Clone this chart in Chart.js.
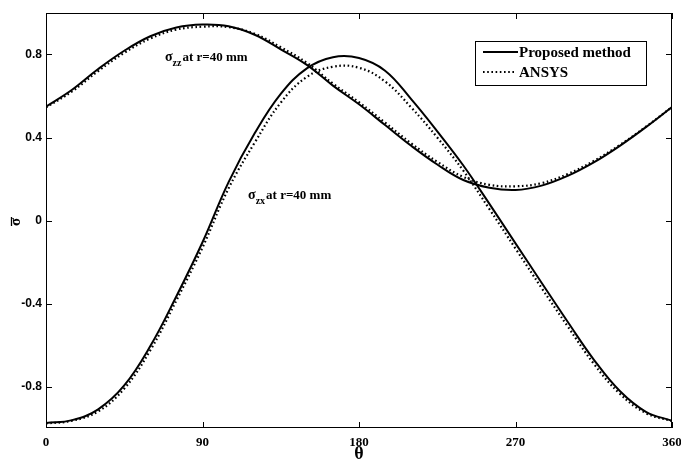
<!DOCTYPE html>
<html>
<head>
<meta charset="utf-8">
<script src="https://cdn.jsdelivr.net/npm/chart.js@4/dist/chart.umd.min.js"></script>
<style>
  body { margin: 0; background: #fff; }
  #wrap { width: 681px; height: 461px; }
</style>
</head>
<body>
<div id="wrap"><canvas id="stressChart"></canvas></div>
<script>
// angle theta (deg)
const theta = [0, 15, 30, 45, 60, 75, 90, 105, 120, 135, 150, 165, 180,
               195, 210, 225, 240, 255, 270, 285, 300, 315, 330, 345, 360];

// sigma_zz at r=40 mm
const szzProposed = [0.549, 0.63, 0.73, 0.818, 0.888, 0.93, 0.944, 0.936, 0.895, 0.825, 0.75, 0.65, 0.56,
                     0.46, 0.36, 0.27, 0.195, 0.158, 0.147, 0.168, 0.215, 0.28, 0.36, 0.45, 0.547];
const szzAnsys = [0.545, 0.622, 0.72, 0.808, 0.877, 0.92, 0.934, 0.932, 0.9, 0.835, 0.76, 0.66, 0.57,
                  0.472, 0.372, 0.283, 0.21, 0.172, 0.165, 0.18, 0.224, 0.287, 0.364, 0.452, 0.547];

// sigma_zx at r=40 mm
const szxProposed = [-0.976, -0.962, -0.91, -0.795, -0.605, -0.365, -0.105, 0.185, 0.42, 0.61, 0.733, 0.787, 0.783,
                     0.722, 0.585, 0.43, 0.265, 0.08, -0.11, -0.3, -0.488, -0.67, -0.822, -0.922, -0.965];
const szxAnsys = [-0.978, -0.965, -0.92, -0.81, -0.625, -0.385, -0.13, 0.155, 0.375, 0.568, 0.692, 0.741, 0.736,
                  0.67, 0.545, 0.4, 0.24, 0.055, -0.135, -0.325, -0.51, -0.69, -0.835, -0.928, -0.967];

const xTicks = [0, 90, 180, 270, 360];
const yTicks = [-0.8, -0.4, 0, 0.4, 0.8];
const legendNames = ["Proposed method", "ANSYS"];

const serif = '"Liberation Serif", "Times New Roman", serif';
const sans = '"Liberation Sans", Arial, sans-serif';

function pts(ys) {
    return theta.map((t, i) => ({ x: t, y: ys[i] }));
}

const solid = { borderColor: "#000", borderWidth: 2, pointRadius: 0, tension: 0.4, fill: false };
const dotted = { borderColor: "#000", borderWidth: 2.2, borderDash: [1.6, 2.6], pointRadius: 0, tension: 0.4, fill: false };

// frame, inward ticks, legend and labels drawn over the plot
const decorations = {
    id: "decorations",
    afterDraw(chart) {
        const ctx = chart.ctx;
        const a = chart.chartArea;
        const xs = chart.scales.x, ys = chart.scales.y;
        ctx.save();
        ctx.strokeStyle = "#000";
        ctx.fillStyle = "#000";
        ctx.lineWidth = 1;
        ctx.strokeRect(a.left + 0.5, a.top + 0.5, a.right - a.left - 1, a.bottom - a.top - 1);
        ctx.beginPath();
        xTicks.forEach(v => {
            const px = Math.round(xs.getPixelForValue(v)) + 0.5;
            ctx.moveTo(px, a.bottom); ctx.lineTo(px, a.bottom - 6);
            ctx.moveTo(px, a.top); ctx.lineTo(px, a.top + 6);
        });
        yTicks.forEach(v => {
            const py = Math.round(ys.getPixelForValue(v)) + 0.5;
            ctx.moveTo(a.left, py); ctx.lineTo(a.left + 6, py);
            ctx.moveTo(a.right, py); ctx.lineTo(a.right - 6, py);
        });
        ctx.stroke();

        // axis titles
        ctx.textAlign = "center";
        ctx.textBaseline = "alphabetic";
        ctx.font = "bold 18px " + serif;
        ctx.fillText("θ", (a.left + a.right) / 2, 459);
        ctx.save();
        ctx.translate(20, 222);
        ctx.rotate(-Math.PI / 2);
        ctx.font = "bold 15px " + serif;
        ctx.fillText("σ", 0, 0);
        ctx.beginPath();
        ctx.lineWidth = 1.3;
        ctx.moveTo(-4, -8.5); ctx.lineTo(5, -8.5);
        ctx.stroke();
        ctx.restore();

        // curve labels
        ctx.textAlign = "left";
        function label(t, v, sub) {
            let x = xs.getPixelForValue(t), y = ys.getPixelForValue(v);
            ctx.font = "bold 14px " + serif;
            ctx.fillText("σ", x, y);
            x += ctx.measureText("σ").width;
            ctx.font = "bold 10px " + serif;
            ctx.fillText(sub, x, y + 5);
            x += ctx.measureText(sub).width + 1;
            ctx.font = "bold 13px " + serif;
            ctx.fillText("at r=40 mm", x, y);
        }
        label(68.4, 0.768, "zz");
        label(116.2, 0.103, "zx");

        // legend
        ctx.lineWidth = 1;
        ctx.strokeRect(475.5, 41.5, 171, 44);
        ctx.font = "bold 15px " + serif;
        ctx.beginPath();
        ctx.lineWidth = 2;
        ctx.moveTo(483, 52); ctx.lineTo(518, 52);
        ctx.stroke();
        ctx.beginPath();
        ctx.setLineDash([1.6, 2.6]);
        ctx.lineWidth = 2.2;
        ctx.moveTo(483, 72); ctx.lineTo(515, 72);
        ctx.stroke();
        ctx.setLineDash([]);
        ctx.fillText(legendNames[0], 519, 57);
        ctx.fillText(legendNames[1], 519, 77);
        ctx.restore();
    }
};

new Chart(document.getElementById("stressChart"), {
    type: "line",
    data: {
        datasets: [
            Object.assign({ label: "Proposed σzz", data: pts(szzProposed) }, solid),
            Object.assign({ label: "ANSYS σzz", data: pts(szzAnsys) }, dotted),
            Object.assign({ label: "Proposed σzx", data: pts(szxProposed) }, solid),
            Object.assign({ label: "ANSYS σzx", data: pts(szxAnsys) }, dotted)
        ]
    },
    options: {
        responsive: true,
        maintainAspectRatio: false,
        animation: false,
        layout: { padding: { top: 13, right: 9, left: 0, bottom: 0 } },
        plugins: { legend: { display: false }, tooltip: { enabled: false } },
        scales: {
            x: {
                type: "linear",
                min: 0,
                max: 360,
                afterBuildTicks: s => { s.ticks = xTicks.map(v => ({ value: v })); },
                afterFit: s => { s.height = 33; s.paddingLeft = 0; s.paddingRight = 0; },
                grid: { display: false, drawTicks: false },
                border: { display: false },
                ticks: { color: "#000", padding: 7, maxRotation: 0, font: { family: serif, weight: "bold", size: 13 } }
            },
            y: {
                min: -1,
                max: 1,
                afterBuildTicks: s => { s.ticks = yTicks.map(v => ({ value: v })); },
                afterFit: s => { s.width = 46; },
                grid: { display: false, drawTicks: false },
                border: { display: false },
                ticks: { color: "#000", padding: 4, font: { family: sans, weight: "bold", size: 12 } }
            }
        }
    },
    plugins: [decorations]
});
</script>
</body>
</html>
